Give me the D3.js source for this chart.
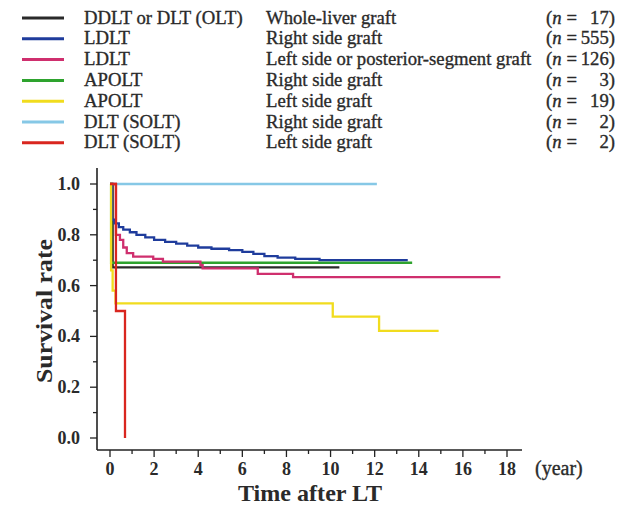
<!DOCTYPE html>
<html>
<head>
<meta charset="utf-8">
<script src="https://cdn.jsdelivr.net/npm/d3@7"></script>
<style>
  body { margin: 0; background: #fff; }
  svg { display: block; }
  text { font-family: "Liberation Serif", "DejaVu Serif", serif; fill: #2a2a2a; }
</style>
</head>
<body>
<svg id="chart" width="627" height="507"></svg>
<script>
// ---- data ----
const groups = ["DDLT or DLT (OLT)", "LDLT", "LDLT", "APOLT", "APOLT", "DLT (SOLT)", "DLT (SOLT)"];
const grafts = ["Whole-liver graft", "Right side graft", "Left side or posterior-segment graft",
                "Right side graft", "Left side graft", "Right side graft", "Left side graft"];
const counts = [17, 555, 126, 3, 19, 2, 2];
const colors = ["#2a2a2a", "#1f3c9c", "#cf2f6e", "#2ea32e", "#f1dc1e", "#86c8e6", "#d9261f"];

// survival step curves: time (years) and survival rate
const oltT   = [0, 0.12, 10.4];
const oltS   = [1.0, 0.672, 0.672];
const ldltRT = [0, 0.08, 0.2, 0.4, 0.6, 0.9, 1.2, 1.6, 2.0, 2.5, 3.0, 3.5, 4.0, 4.6, 5.4, 6.0, 6.5, 7.0, 7.6, 8.4, 9.5, 13.5];
const ldltRS = [1.0, 0.86, 0.845, 0.83, 0.82, 0.81, 0.80, 0.79, 0.78, 0.772, 0.765, 0.757, 0.75, 0.745, 0.74, 0.733, 0.725, 0.716, 0.71, 0.705, 0.70, 0.70];
const ldltLT = [0, 0.27, 0.45, 0.6, 0.76, 1.05, 1.96, 2.4, 4.1, 4.2, 6.7, 8.3, 17.7];
const ldltLS = [1.0, 0.80, 0.78, 0.75, 0.728, 0.714, 0.705, 0.694, 0.681, 0.668, 0.646, 0.633, 0.633];
const apoltRT = [0, 0.05, 13.7];
const apoltRS = [1.0, 0.69, 0.69];
const apoltLT = [0, 0.05, 0.12, 0.25, 10.1, 12.2, 14.9];
const apoltLS = [1.0, 0.66, 0.58, 0.53, 0.478, 0.422, 0.422];
const soltRT = [0, 12.1];
const soltRS = [1.0, 1.0];
const soltLT = [0, 0.27, 0.68, 0.68];
const soltLS = [1.0, 0.5, 0.0, 0.0];

const xTicks = [0, 2, 4, 6, 8, 10, 12, 14, 16, 18];
const yTicks = [0.0, 0.2, 0.4, 0.6, 0.8, 1.0];

const curves = [
  [oltT, oltS], [ldltRT, ldltRS], [ldltLT, ldltLS], [apoltRT, apoltRS],
  [apoltLT, apoltLS], [soltRT, soltRS], [soltLT, soltLS]
];
// draw order (back to front)
const drawOrder = [5, 0, 3, 2, 1, 4, 6];

// ---- layout ----
const svg = d3.select("#chart");
const x = d3.scaleLinear().domain([0, 18]).range([110, 507]);
const y = d3.scaleLinear().domain([0, 1]).range([438, 184]);
const axisX0 = 97, axisY0 = 450;
const heavy = sel => sel.attr("stroke", "#2a2a2a").attr("stroke-width", 0.35);

// legend
const legend = svg.append("g");
const LFS = 18.7;
groups.forEach((g, i) => {
  const yy = 18 + i * 20.8;
  legend.append("line").attr("x1", 22).attr("x2", 64).attr("y1", yy).attr("y2", yy)
    .attr("stroke", colors[i]).attr("stroke-width", 3);
  legend.append("text").attr("x", 84).attr("y", yy + 5.5).attr("font-size", LFS).call(heavy).text(g);
  legend.append("text").attr("x", 266).attr("y", yy + 5.5).attr("font-size", LFS).call(heavy).text(grafts[i]);
  const t = legend.append("text").attr("x", 546).attr("y", yy + 5.5).attr("font-size", LFS).call(heavy);
  t.append("tspan").text("(");
  t.append("tspan").attr("font-style", "italic").text("n");
  legend.append("text").attr("x", 566.5).attr("y", yy + 5.5).attr("font-size", LFS).call(heavy).text("=");
  legend.append("text").attr("x", 615).attr("y", yy + 5.5).attr("font-size", LFS).call(heavy)
    .attr("text-anchor", "end").text(counts[i] + ")");
});

// axes
const gx = svg.append("g").attr("transform", `translate(0,${axisY0})`);
gx.append("line").attr("x1", axisX0).attr("x2", 522).attr("stroke", "#222").attr("stroke-width", 1.6);
const xMinor = d3.range(0, 19, 1);
gx.selectAll(".xm").data(xMinor).join("line")
  .attr("x1", d => x(d)).attr("x2", d => x(d)).attr("y1", 0).attr("y2", d => d % 2 === 0 ? 7 : 4)
  .attr("stroke", "#222").attr("stroke-width", 1.3);
gx.selectAll(".xl").data(xTicks).join("text")
  .attr("x", d => x(d)).attr("y", 24.5).attr("text-anchor", "middle")
  .attr("font-size", 18).attr("font-weight", "bold").text(d => d);
svg.append("text").attr("x", 535).attr("y", 474.5).attr("font-size", 20).call(heavy).text("(year)");
svg.append("text").attr("x", 310).attr("y", 501).attr("text-anchor", "middle")
  .attr("font-size", 23).attr("font-weight", "bold")
  .attr("textLength", 144).attr("lengthAdjust", "spacingAndGlyphs").text("Time after LT");

const gy = svg.append("g").attr("transform", `translate(${axisX0},0)`);
gy.append("line").attr("y1", 168).attr("y2", axisY0).attr("stroke", "#222").attr("stroke-width", 1.6);
const yMinor = d3.range(0, 11).map(d => d / 10);
gy.selectAll(".ym").data(yMinor).join("line")
  .attr("y1", d => y(d)).attr("y2", d => y(d)).attr("x1", 0)
  .attr("x2", (d, i) => i % 2 === 0 ? -7 : -4)
  .attr("stroke", "#222").attr("stroke-width", 1.3);
gy.selectAll(".yl").data(yTicks).join("text")
  .attr("x", -17).attr("y", d => y(d) + 6).attr("text-anchor", "end")
  .attr("font-size", 18).attr("font-weight", "bold").text(d => d.toFixed(1));
svg.append("text").attr("transform", "translate(52,311) rotate(-90)").attr("text-anchor", "middle")
  .attr("font-size", 23).attr("font-weight", "bold")
  .attr("textLength", 144).attr("lengthAdjust", "spacingAndGlyphs").text("Survival rate");

// curves
const line = d3.line().x(d => x(d[0])).y(d => y(d[1])).curve(d3.curveStepAfter);
drawOrder.forEach(i => {
  const [T, S] = curves[i];
  const pts = T.map((t, k) => [t, S[k]]);
  svg.append("path").attr("d", line(pts)).attr("fill", "none")
    .attr("stroke", colors[i]).attr("stroke-width", 2.3);
});
</script>
</body>
</html>
